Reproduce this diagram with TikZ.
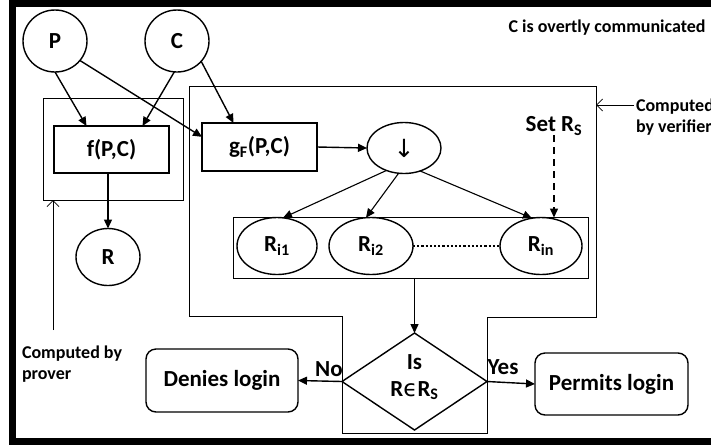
\documentclass[tikz,border=0pt]{standalone}
\usepackage{fontspec}
\setmainfont{Carlito}
\newfontfamily\dvfont{DejaVu Sans}
\usetikzlibrary{shapes.geometric,arrows.meta,calc}
\begin{document}
\begin{tikzpicture}[x=1pt,y=-1pt,
  every node/.style={inner sep=0pt,outer sep=0pt,font=\fontsize{23}{25}\selectfont\bfseries},
  ell/.style={draw,ellipse,line width=1.4pt},
  fbox/.style={draw,rectangle,line width=2.2pt},
  thinbox/.style={draw,rectangle,line width=0.9pt},
  rbox/.style={draw,rectangle,rounded corners=10pt,line width=1.4pt},
  arr/.style={line width=1.4pt,-{Triangle[length=9pt,width=8pt]}},
  openarr/.style={line width=0.8pt,-{Straight Barb[length=6pt,width=12pt,line width=0.8pt]}},
  small/.style={font=\fontsize{18}{21}\selectfont\bfseries}
]
\useasboundingbox (0,0) rectangle (711,445);
\clip (0,0) rectangle (711,445);
% outer frame
\draw[line width=7pt] (800,3) -- (12,3) -- (12,441) -- (800,441);
% verifier region
\draw[line width=0.9pt] (189,86) -- (596,86) -- (596,317) -- (487,317) -- (487,433) -- (342,433) -- (342,316) -- (189,316) -- cycle;
\coordinate (vright) at (596,105);
% nodes
\node[ell,minimum width=64pt,minimum height=62pt] (P) at (55,41) {P};
\node[ell,minimum width=64pt,minimum height=62pt] (C) at (177,41) {C};
\node[thinbox,minimum width=140pt,minimum height=102pt] (prover) at (113,149) {};
\node[fbox,minimum width=115pt,minimum height=47pt] (f) at (111.5,149.5) {f(P,C)};
\node[fbox,minimum width=115pt,minimum height=48pt] (g) at (259.5,147) {g\textsubscript{F}(P,C)};
\node[ell,minimum width=74pt,minimum height=51pt] (dn) at (404,148) {\dvfont\fontsize{25}{25}\selectfont\mdseries ↓};
\node (setrs) at (554,126) {Set R\textsubscript{S}};
\node[ell,minimum width=64pt,minimum height=57pt] (R) at (108,257) {R};
\node[thinbox,minimum width=355pt,minimum height=61pt] (rset) at (410.5,247.5) {};
\node[ell,minimum width=80pt,minimum height=57pt] (ri1) at (277,246) {R\textsubscript{i1}};
\node[ell,minimum width=84pt,minimum height=57pt] (ri2) at (371,246) {R\textsubscript{i2}};
\node[ell,minimum width=82pt,minimum height=57pt] (rin) at (541,246) {R\textsubscript{in}};
\node[draw,diamond,line width=1.4pt,minimum width=145pt,minimum height=97pt] (dia) at (414.5,381.5) {};
\node[align=center,font=\fontsize{23}{27}\selectfont\bfseries] (diatext) at (414.5,377) {Is\\R{\dvfont\mdseries ϵ}R\textsubscript{S}};
\node[rbox,minimum width=152pt,minimum height=63pt] (deny) at (222,380.5) {Denies login};
\node[rbox,minimum width=153pt,minimum height=62pt] (permit) at (611.5,384) {Permits login};
\node (no) at (329,369) {No};
\node (yes) at (503,367) {Yes};
\node[small] (covert) at (607,28) {C is overtly communicated};
\node[small,anchor=west,align=left] (provertxt) at (22,364) {Computed by\\prover};
\node[small,anchor=west,align=left] (verifiertxt) at (636,117) {Computed\\by verifier};
\coordinate (pv) at (53,330);
\coordinate (vf) at (634,105);
% connectors
\draw[arr] (P.south) -- ([xshift=-25pt]f.north);
\draw[arr] (C.265) -- ([xshift=31pt]f.north);
\draw[arr] (P.-38) -- (g.170);
\draw[arr] (C.-40) -- ([xshift=-26pt]g.north);
\draw[arr] (g.east) -- (dn.west);
\draw[arr] (f.south -| R.north) -- (R.north);
\draw[line width=1.1pt,-{Triangle[length=9pt,width=8pt]}] (dn.232) -- (ri1.78);
\draw[line width=1.1pt,-{Triangle[length=9pt,width=8pt]}] (dn.258) -- (ri2.100);
\draw[line width=1.1pt,-{Triangle[length=9pt,width=8pt]}] (dn.305) -- (rin.108);
\draw[line width=1.4pt,dashed,dash pattern=on 7pt off 5pt,-{Triangle[length=9pt,width=8pt]}] (setrs.south) -- (setrs.south |- rin.north);
\draw[line width=2.4pt,dash pattern=on 2.2pt off 2pt] (ri2.east) -- (rin.west);
\draw[arr] (rset.south -| dia.north) -- (dia.north);
\draw[arr] (dia.west) -- (deny.east);
\draw[arr] (dia.east) -- (permit.west);
\draw[openarr] (pv) -- (pv |- prover.south);
\draw[openarr] (vf) -- (vright);
\end{tikzpicture}
\end{document}
